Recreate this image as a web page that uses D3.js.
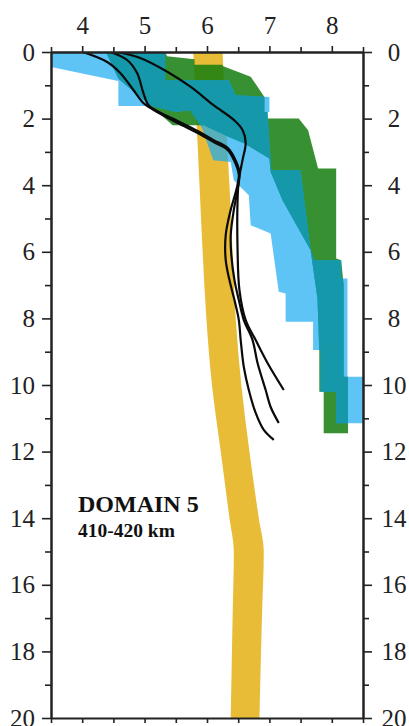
<!DOCTYPE html>
<html>
<head>
<meta charset="utf-8">
<script src="https://cdn.jsdelivr.net/npm/d3@7"></script>
<style>
  html, body { margin: 0; padding: 0; background: #fff; }
  svg { display: block; }
</style>
</head>
<body>
<svg id="chart" width="409" height="726"></svg>
<script>
// ---------- data ----------
const xTicks = [4, 5, 6, 7, 8];
const xMinorTicks = [3.5, 4.5, 5.5, 6.5, 7.5, 8.5];
const yTicks = [0, 2, 4, 6, 8, 10, 12, 14, 16, 18, 20];
const yMinorTicks = [1, 3, 5, 7, 9, 11, 13, 15, 17, 19];

// yellow band: [depth, left velocity, right velocity]
const yellowBand = [
  [0, 5.78, 6.25], [2, 5.83, 6.30], [4, 5.88, 6.36], [6, 5.93, 6.41],
  [8, 5.99, 6.46], [10, 6.08, 6.55], [12, 6.22, 6.68], [14, 6.36, 6.83],
  [15, 6.43, 6.91], [17, 6.41, 6.88], [20, 6.38, 6.84]
];

// green band outline: [velocity, depth]
const greenBand = [
  [4.38, 0], [5.33, 0], [5.36, 0.13], [5.8, 0.22], [5.8, 0.38], [6.25, 0.38],
  [6.25, 0.42], [6.7, 0.74], [6.92, 1.35], [6.92, 1.8], [6.97, 1.8], [6.97, 2.0],
  [7.47, 2.0], [7.62, 2.35], [7.78, 3.5], [8.07, 3.5], [8.07, 6.2], [8.15, 6.25],
  [8.19, 7.0], [8.19, 9.75], [8.26, 9.75], [8.26, 11.45], [7.87, 11.45],
  [7.87, 10.2], [7.8, 10.2], [7.8, 9.0], [7.77, 7.4], [7.66, 5.95], [7.21, 4.45],
  [7.02, 3.6], [7.0, 3.2], [6.6, 2.75], [6.35, 2.55], [5.95, 2.2], [5.45, 2.2],
  [5.1, 1.62], [4.58, 0.8]
];

// light blue band outline: [velocity, depth]
const blueBand = [
  [3.5, 0], [5.33, 0], [5.33, 0.85], [6.35, 0.85], [6.46, 1.3], [7.0, 1.35],
  [7.0, 1.8], [6.97, 1.8], [7.03, 3.55], [7.5, 3.55], [7.66, 5.95], [7.72, 6.25],
  [8.15, 6.25], [8.15, 6.8], [8.25, 6.8], [8.25, 9.75], [8.5, 9.75], [8.5, 11.15],
  [8.07, 11.15], [8.07, 10.2], [7.82, 10.2], [7.82, 8.95], [7.7, 8.95], [7.7, 8.1],
  [7.26, 8.1], [7.26, 7.25], [7.15, 7.2], [7.02, 5.45], [6.7, 5.2], [6.67, 4.3],
  [6.43, 3.85], [6.38, 3.3], [6.1, 3.25], [5.92, 2.28], [5.73, 1.75], [5.5, 1.8],
  [5.1, 1.62], [4.58, 1.62], [4.58, 0.87], [3.5, 0.45]
];

// black velocity profiles: [velocity, depth]
const profile1 = [
  [4.01, 0], [4.40, 0.30], [4.61, 0.63], [4.82, 1.14], [4.98, 1.53], [5.09, 1.68],
  [5.20, 1.80], [5.53, 2.13], [5.85, 2.43], [6.10, 2.70], [6.33, 2.94], [6.43, 3.24],
  [6.51, 3.69], [6.47, 4.14], [6.38, 4.74], [6.30, 5.50], [6.30, 6.25], [6.36, 6.85],
  [6.44, 7.45], [6.51, 8.05], [6.54, 8.65], [6.59, 9.46], [6.67, 10.15], [6.78, 10.84],
  [6.91, 11.35], [7.07, 11.65]
];
const profile2 = [
  [4.45, 0], [4.72, 0.24], [4.88, 0.63], [4.98, 1.23], [5.06, 1.59], [5.17, 1.74],
  [5.53, 2.07], [5.85, 2.37], [6.10, 2.64], [6.33, 2.88], [6.44, 3.18], [6.52, 3.60],
  [6.49, 4.14], [6.43, 4.74], [6.38, 5.50], [6.39, 6.10], [6.44, 6.85], [6.51, 7.45],
  [6.59, 8.05], [6.73, 8.65], [6.81, 9.34], [6.94, 10.15], [7.02, 10.66], [7.15, 11.14]
];
const profile3 = [
  [4.56, 0], [4.93, 0.18], [5.37, 0.60], [5.74, 1.05], [6.10, 1.59], [6.43, 2.04],
  [6.57, 2.34], [6.62, 2.73], [6.57, 3.24], [6.51, 3.84], [6.49, 4.44], [6.49, 5.95],
  [6.52, 7.15], [6.62, 8.05], [6.78, 8.65], [6.97, 9.34], [7.23, 10.15]
];
const profiles = [profile1, profile2, profile3];

const titleText = "DOMAIN 5";
const subtitleText = "410-420 km";

// ---------- drawing ----------
const W = 409, H = 726;
const margin = { left: 51, right: 46, top: 52, bottom: 8 };
const svg = d3.select("#chart");

const x = d3.scaleLinear().domain([3.5, 8.5]).range([margin.left, W - margin.right]);
const y = d3.scaleLinear().domain([0, 20]).range([margin.top, H - margin.bottom]);

const defs = svg.append("defs");
defs.append("clipPath").attr("id", "plotClip")
  .append("rect").attr("x", x(3.5)).attr("y", y(0))
  .attr("width", x(8.5) - x(3.5)).attr("height", y(20) - y(0));

const poly = d3.line().x(d => x(d[0])).y(d => y(d[1])).curve(d3.curveLinearClosed);

defs.append("clipPath").attr("id", "greenClip")
  .append("path").attr("d", poly(greenBand));

const g = svg.append("g").attr("clip-path", "url(#plotClip)");

// yellow band
const yArea = d3.area()
  .y(d => y(d[0]))
  .x0(d => x(d[1]))
  .x1(d => x(d[2]))
  .curve(d3.curveMonotoneY);
g.append("path").attr("d", yArea(yellowBand)).attr("fill", "#E8BC37");

// green band
g.append("path").attr("d", poly(greenBand))
  .attr("fill", "rgb(20,126,14)").attr("fill-opacity", 0.85);

// light blue band
g.append("path").attr("d", poly(blueBand))
  .attr("fill", "rgb(26,169,241)").attr("fill-opacity", 0.7);

// overlap (teal)
g.append("path").attr("d", poly(blueBand))
  .attr("clip-path", "url(#greenClip)")
  .attr("fill", "rgb(20,152,170)");

// profiles
const line = d3.line().x(d => x(d[0])).y(d => y(d[1])).curve(d3.curveCatmullRom);
g.selectAll("path.profile").data(profiles).enter().append("path")
  .attr("class", "profile")
  .attr("d", line)
  .attr("fill", "none")
  .attr("stroke", "#0a0a0a")
  .attr("stroke-width", 2.2);

// axes
const font = "'Liberation Serif', 'Times New Roman', serif";
function styleAxis(sel) {
  sel.select(".domain").attr("stroke", "#222").attr("stroke-width", 2);
  sel.selectAll(".tick line").attr("stroke", "#222").attr("stroke-width", 1.6);
  sel.selectAll(".tick text").attr("font-family", font).attr("font-size", 25).attr("fill", "#222");
}

// top
svg.append("g").attr("transform", `translate(0,${y(0)})`)
  .call(d3.axisTop(x).tickValues(xMinorTicks).tickSize(5).tickSizeOuter(0).tickFormat(""))
  .call(styleAxis);
svg.append("g").attr("transform", `translate(0,${y(0)})`)
  .call(d3.axisTop(x).tickValues(xTicks).tickSize(6).tickPadding(12).tickSizeOuter(0).tickFormat(d3.format("d")))
  .call(styleAxis);
// bottom
svg.append("g").attr("transform", `translate(0,${y(20)})`)
  .call(d3.axisBottom(x).tickValues(xTicks.concat(xMinorTicks)).tickSize(5).tickSizeOuter(0).tickFormat(""))
  .call(styleAxis);
// left
svg.append("g").attr("transform", `translate(${x(3.5)},0)`)
  .call(d3.axisLeft(y).tickValues(yMinorTicks).tickSize(6).tickSizeOuter(0).tickFormat(""))
  .call(styleAxis);
svg.append("g").attr("transform", `translate(${x(3.5)},0)`)
  .call(d3.axisLeft(y).tickValues(yTicks).tickSize(9).tickPadding(7).tickSizeOuter(0).tickFormat(d3.format("d")))
  .call(styleAxis);
// right
svg.append("g").attr("transform", `translate(${x(8.5)},0)`)
  .call(d3.axisRight(y).tickValues(yMinorTicks).tickSize(6).tickSizeOuter(0).tickFormat(""))
  .call(styleAxis);
const rightAx = svg.append("g").attr("transform", `translate(${x(8.5)},0)`)
  .call(d3.axisRight(y).tickValues(yTicks).tickSize(9).tickPadding(8).tickSizeOuter(0).tickFormat(d3.format("d")))
  .call(styleAxis);
rightAx.selectAll(".tick text").attr("text-anchor", "middle").attr("x", 31);

// annotations
svg.append("text").attr("x", 78).attr("y", 512)
  .attr("font-family", font).attr("font-weight", "bold").attr("font-size", 24)
  .attr("fill", "#111").text(titleText);
svg.append("text").attr("x", 78).attr("y", 537)
  .attr("font-family", font).attr("font-weight", "bold").attr("font-size", 19.5)
  .attr("fill", "#111").text(subtitleText);
</script>
</body>
</html>
